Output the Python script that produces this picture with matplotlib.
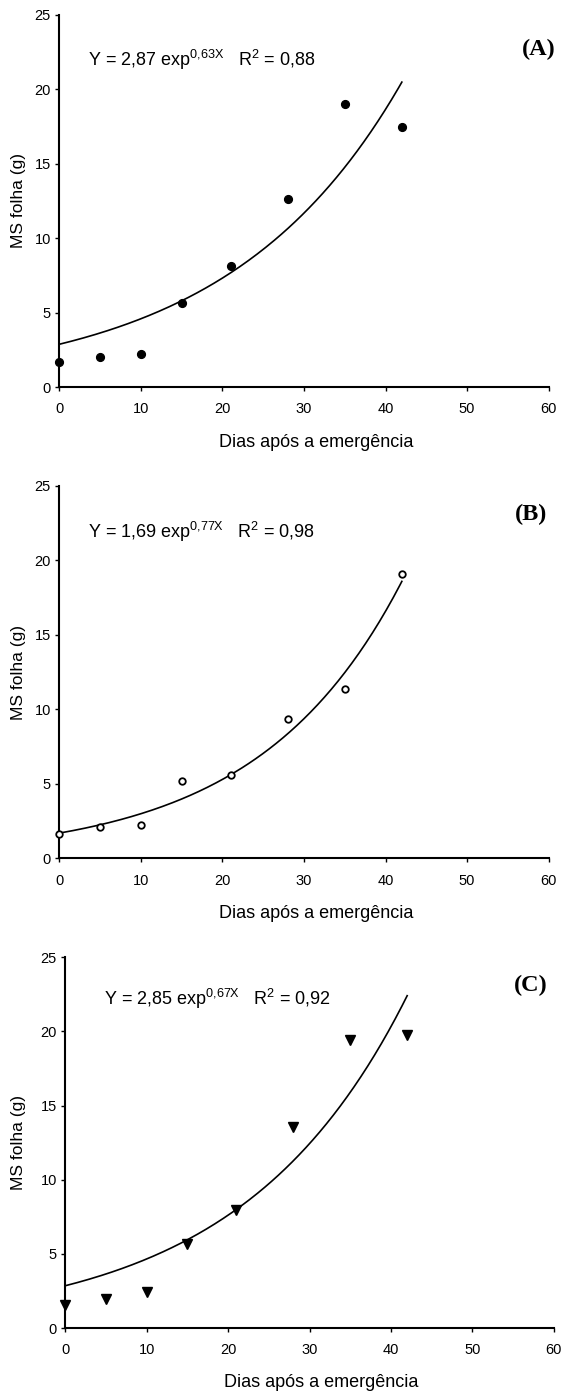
import numpy as np
import matplotlib
matplotlib.use("Agg")
import matplotlib.pyplot as plt

plt.rcParams['font.family'] = ['Liberation Sans', 'DejaVu Sans']
plt.rcParams['mathtext.fontset'] = 'custom'
plt.rcParams['mathtext.rm'] = 'Liberation Sans'
plt.rcParams['mathtext.it'] = 'Liberation Sans:italic'

# dias apos a emergencia
dias = [0, 5, 10, 15, 21, 28, 35, 42]

# MS folha (g) em cada tratamento
ms_a = [1.66, 2.04, 2.2, 5.63, 8.14, 12.64, 19.05, 17.5]
ms_b = [1.62, 2.1, 2.25, 5.2, 5.6, 9.35, 11.39, 19.1]
ms_c = [1.53, 1.93, 2.45, 5.64, 7.96, 13.53, 19.42, 19.76]

# curvas ajustadas (y = a * exp(b * dias))
coef_a = [2.87, 0.0468]
coef_b = [1.69, 0.0571]
coef_c = [2.85, 0.0491]

eq_a = r"Y = 2,87 exp$^{\mathrm{0{,}63X}}$   R$^{\mathrm{2}}$ = 0,88"
eq_b = r"Y = 1,69 exp$^{\mathrm{0{,}77X}}$   R$^{\mathrm{2}}$ = 0,98"
eq_c = r"Y = 2,85 exp$^{\mathrm{0{,}67X}}$   R$^{\mathrm{2}}$ = 0,92"

W, H = 563, 1393
fig = plt.figure(figsize=(W / 100, H / 100), dpi=100)

def px_axes(left, right, top, bottom):
    return fig.add_axes([left / W, 1 - bottom / H, (right - left) / W, (bottom - top) / H])

def painel(ax, y, coef, eq, eq_xy, letra, letra_xy, mk):
    xs = np.linspace(0, 42, 200)
    ax.plot(xs, coef[0] * np.exp(coef[1] * xs), color='black', lw=1.2, clip_on=False)
    ax.plot(dias, y, linestyle='none', clip_on=False, zorder=5, **mk)
    ax.set_xlim(0, 60)
    ax.set_ylim(0, 25)
    ax.set_xticks(range(0, 61, 10))
    ax.set_yticks(range(0, 26, 5))
    for s in ['top', 'right']:
        ax.spines[s].set_visible(False)
    for s in ['left', 'bottom']:
        ax.spines[s].set_linewidth(1.5)
    ax.tick_params(direction='out', length=3, width=1, labelsize=10.5)
    ax.tick_params(axis='x', pad=8)
    ax.tick_params(axis='y', pad=3)
    ax.set_xlabel('Dias após a emergência', fontsize=13)
    ax.set_ylabel('MS folha (g)', fontsize=12.5)
    ax.text(eq_xy[0], eq_xy[1], eq, fontsize=13, ha='left', va='center')
    ax.text(letra_xy[0], letra_xy[1], letra, fontsize=17.5, fontweight='bold',
            family='Liberation Serif', ha='right', va='center')

ax1 = px_axes(59.2, 548.7, 15, 387)
painel(ax1, ms_a, coef_a, eq_a, (3.5, 22.0), '(A)', (60.9, 22.7),
       dict(marker='o', ms=5.6, color='black'))
ax1.xaxis.set_label_coords(0.524, -0.125)
ax1.yaxis.set_label_coords(-0.068, 0.5)

ax2 = px_axes(59.2, 548.7, 486, 858.3)
painel(ax2, ms_b, coef_b, eq_b, (3.5, 21.9), '(B)', (59.8, 23.1),
       dict(marker='o', ms=4.7, mfc='white', mec='black', mew=1.3))
ax2.xaxis.set_label_coords(0.524, -0.125)
ax2.yaxis.set_label_coords(-0.068, 0.5)

ax3 = px_axes(65.3, 553.7, 957.3, 1328)
painel(ax3, ms_c, coef_c, eq_c, (4.77, 22.2), '(C)', (59.3, 23.1),
       dict(marker='v', ms=7.8, color='black'))
ax3.xaxis.set_label_coords(0.524, -0.125)
ax3.yaxis.set_label_coords(-0.08, 0.5)

fig.savefig('out.png', dpi=100, facecolor='white')
